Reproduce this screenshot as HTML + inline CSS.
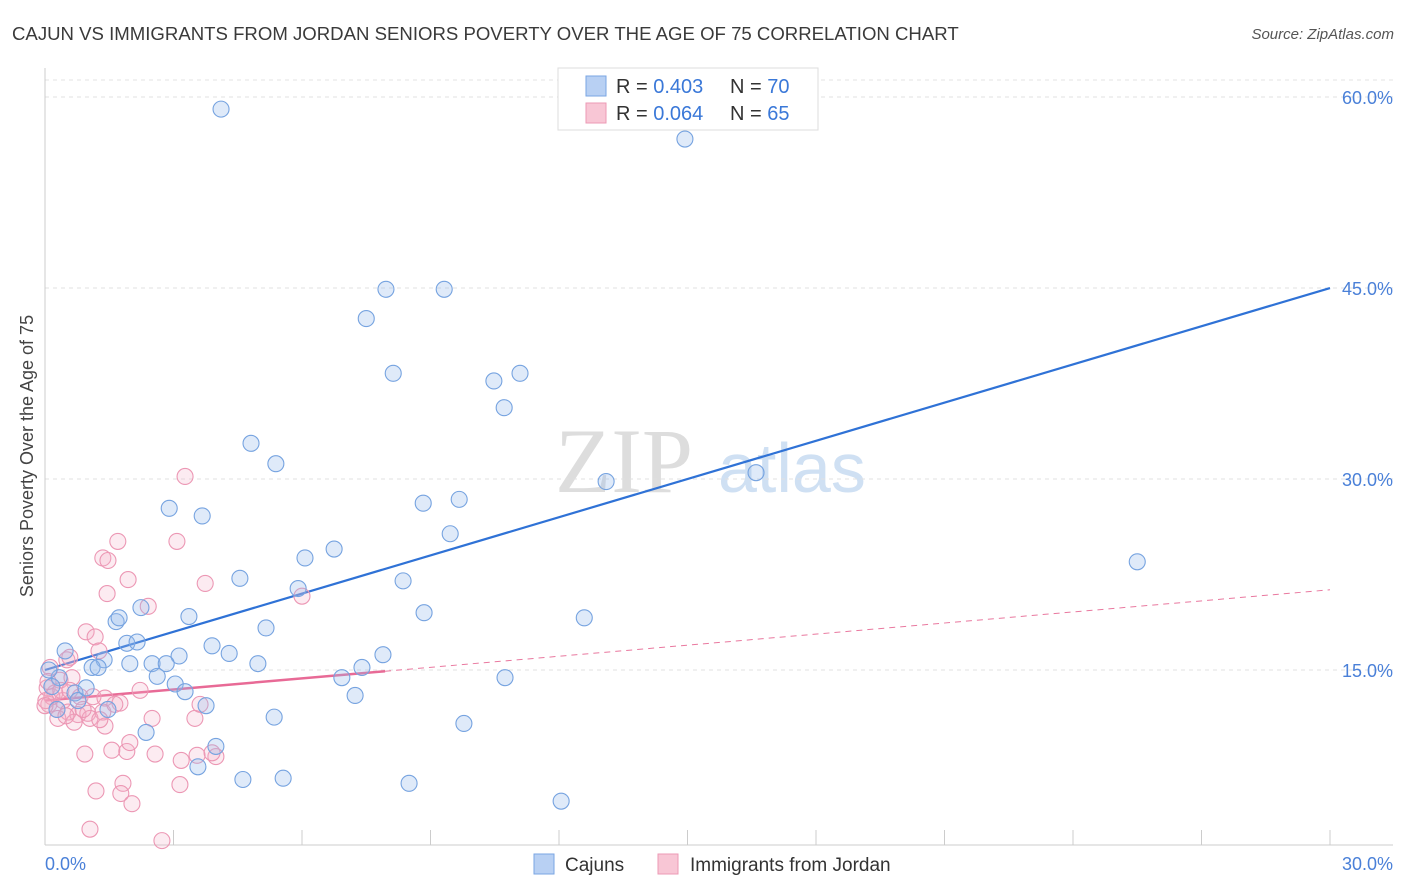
<!DOCTYPE html>
<html><head><meta charset="utf-8">
<style>
body{margin:0;background:#fff;font-family:"Liberation Sans",sans-serif;}
svg{display:block}
</style></head>
<body>
<svg id="chart" width="1406" height="892">
<text x="12" y="40" font-size="18.6" fill="#3a3a3a">CAJUN VS IMMIGRANTS FROM JORDAN SENIORS POVERTY OVER THE AGE OF 75 CORRELATION CHART</text>
<text x="1394" y="39" font-size="15" fill="#555" font-style="italic" text-anchor="end">Source: ZipAtlas.com</text>
<text transform="translate(33,456) rotate(-90)" font-size="18" fill="#444" text-anchor="middle">Seniors Poverty Over the Age of 75</text>
<g><text x="555" y="492" font-size="92" fill="#ddd" font-family="Liberation Serif,serif">ZIP</text><text x="718" y="492" font-size="70" fill="#cfe0f3">atlas</text></g>
<g id="grid"></g><g id="axes"></g><g id="lines"></g><g id="pts"></g>
<g>
<rect x="558" y="68" width="260" height="62" fill="#fff" stroke="#ddd"/>
<rect x="586" y="76" width="20" height="20" fill="#b8d0f3" stroke="#7aa6e3"/>
<rect x="586" y="103" width="20" height="20" fill="#f8c6d5" stroke="#ec9ab5"/>
<text x="616" y="93" font-size="20" fill="#333">R = <tspan fill="#3a78d8">0.403</tspan></text>
<text x="730" y="93" font-size="20" fill="#333">N = <tspan fill="#3a78d8">70</tspan></text>
<text x="616" y="120" font-size="20" fill="#333">R = <tspan fill="#3a78d8">0.064</tspan></text>
<text x="730" y="120" font-size="20" fill="#333">N = <tspan fill="#3a78d8">65</tspan></text>
</g>
<g>
<rect x="534" y="854" width="20" height="20" fill="#b8d0f3" stroke="#7aa6e3"/>
<text x="565" y="871" font-size="19" fill="#333">Cajuns</text>
<rect x="658" y="854" width="20" height="20" fill="#f8c6d5" stroke="#ec9ab5"/>
<text x="690" y="871" font-size="19" fill="#333">Immigrants from Jordan</text>
</g>
</svg>
<script>
const yTicks=[15,30,45,60];
const yTickLabels=["15.0%","30.0%","45.0%","60.0%"];
const xTickLabels=["0.0%","30.0%"];
const cajunX=[4.11,14.94,7.96,9.32,7.50,8.13,10.48,11.09,10.72,4.81,5.39,13.10,16.60,9.67,8.83,2.90,3.67,9.46,6.07,6.75,25.5,4.55,8.36,5.91,2.24,3.36,8.85,12.59,1.66,1.73,5.16,1.91,2.15,0.47,1.38,3.90,4.30,4.97,3.13,2.50,1.98,2.83,1.10,1.24,7.89,7.40,6.93,2.62,3.04,10.74,3.27,7.24,0.33,0.70,0.16,0.77,1.47,3.76,5.35,9.78,2.36,3.99,3.57,4.62,5.56,8.50,12.05,0.09,0.28,0.96];
const cajunY=[59.05,56.7,44.9,44.9,42.6,38.3,37.7,38.3,35.6,32.8,31.2,29.8,30.5,28.4,28.1,27.7,27.1,25.7,23.8,24.5,23.5,22.2,22.0,21.4,19.9,19.2,19.5,19.1,18.8,19.1,18.3,17.1,17.2,16.5,15.8,16.9,16.3,15.5,16.1,15.5,15.5,15.5,15.2,15.2,16.2,15.2,14.4,14.5,13.9,14.4,13.3,13.0,14.4,13.2,13.7,12.6,11.9,12.2,11.3,10.8,10.1,9.0,7.4,6.4,6.5,6.1,4.7,15.0,11.9,13.6];
const jordanX=[3.27,1.70,3.08,1.35,1.47,1.94,3.74,1.45,2.41,6.00,0.96,1.17,1.26,0.51,0.58,0.12,0.35,0.63,0.05,0.23,0.42,0.82,1.12,1.40,1.75,2.22,0.09,0.28,0.54,0.77,1.00,1.35,1.63,0.68,1.05,1.40,2.50,3.50,3.62,0.30,0.16,0.93,1.56,1.91,2.57,3.55,3.18,3.99,3.90,1.98,1.82,1.77,2.03,1.19,1.05,2.73,3.15,0.02,0.07,0.37,0.89,0.58,0.0,0.49,1.28];
const jordanY=[30.2,25.1,25.1,23.8,23.6,22.1,21.8,21.0,20.0,20.8,18.0,17.6,16.5,15.8,16.0,15.2,14.2,14.4,13.6,13.2,12.6,12.9,12.9,12.8,12.4,13.4,12.3,11.9,11.7,11.5,11.6,11.7,12.3,10.9,11.2,10.6,11.2,11.2,12.3,11.2,12.9,8.4,8.7,8.6,8.4,8.3,7.9,8.2,8.5,9.3,6.1,5.3,4.5,5.5,2.5,1.6,6.0,12.6,14.1,13.4,11.9,13.4,12.2,11.4,11.1];
const cajunTrend=[15.0,45.0];
const jordanTrend=[12.6,21.3];
const jordanSolidEnd=7.94;

const NS="http://www.w3.org/2000/svg";
const X=v=>45+v/30*1285;
const Y=v=>861-v*12.733;
function mk(tag,parent,attrs){const e=document.createElementNS(NS,tag);for(const k in attrs)e.setAttribute(k,attrs[k]);document.getElementById(parent).appendChild(e);return e;}
mk('line','grid',{x1:45,x2:1393,y1:80,y2:80,stroke:'#e3e3e3','stroke-dasharray':'4,4'});
yTicks.forEach((t,i)=>{
 const g=mk('line','grid',{x1:45,x2:1393,y1:Y(t),y2:Y(t),stroke:'#e0e0e0','stroke-dasharray':'4,4'});
 
 
 const tx=mk('text','axes',{x:1393,y:Y(t)+7,'font-size':18,fill:'#4a80d8','text-anchor':'end'});
 tx.textContent=yTickLabels[i];
 
 
});
mk('line','axes',{x1:45,x2:45,y1:68,y2:845,stroke:'#ccc'});
mk('line','axes',{x1:45,x2:1393,y1:845,y2:845,stroke:'#ccc'});
for(let i=1;i<=10;i++){const t=mk('line','axes',{x1:X(i*3),x2:X(i*3),y1:830,y2:845,stroke:'#ccc'});
 
 }
const xl0=mk('text','axes',{x:45,y:870,'font-size':18,fill:'#4a80d8'});xl0.textContent=xTickLabels[0];


const xl1=mk('text','axes',{x:1393,y:870,'font-size':18,fill:'#4a80d8','text-anchor':'end'});xl1.textContent=xTickLabels[1];


function pts(xs,ys,fill,stroke,name){xs.forEach((x,i)=>{const c=mk('circle','pts',{cx:X(x),cy:Y(ys[i]),r:8,fill:fill,stroke:stroke,'stroke-width':1.1});
 
 });}
pts(jordanX,jordanY,'rgba(245,175,198,0.25)','#ec97b4','jordan-point');
pts(cajunX,cajunY,'rgba(150,186,236,0.3)','#76a3e0','cajun-point');
const jy=x=>jordanTrend[0]+(jordanTrend[1]-jordanTrend[0])*x/30;
const l1=mk('line','lines',{x1:X(jordanSolidEnd),y1:Y(jy(jordanSolidEnd)),x2:X(30),y2:Y(jordanTrend[1]),stroke:'#e9789f','stroke-width':1,'stroke-dasharray':'6,5'});


const l2=mk('line','lines',{x1:X(0),y1:Y(jordanTrend[0]),x2:X(jordanSolidEnd),y2:Y(jy(jordanSolidEnd)),stroke:'#e86a96','stroke-width':2.5});


const l3=mk('line','lines',{x1:X(0),y1:Y(cajunTrend[0]),x2:X(30),y2:Y(cajunTrend[1]),stroke:'#2f72d6','stroke-width':2.2});


</script>
</body></html>
